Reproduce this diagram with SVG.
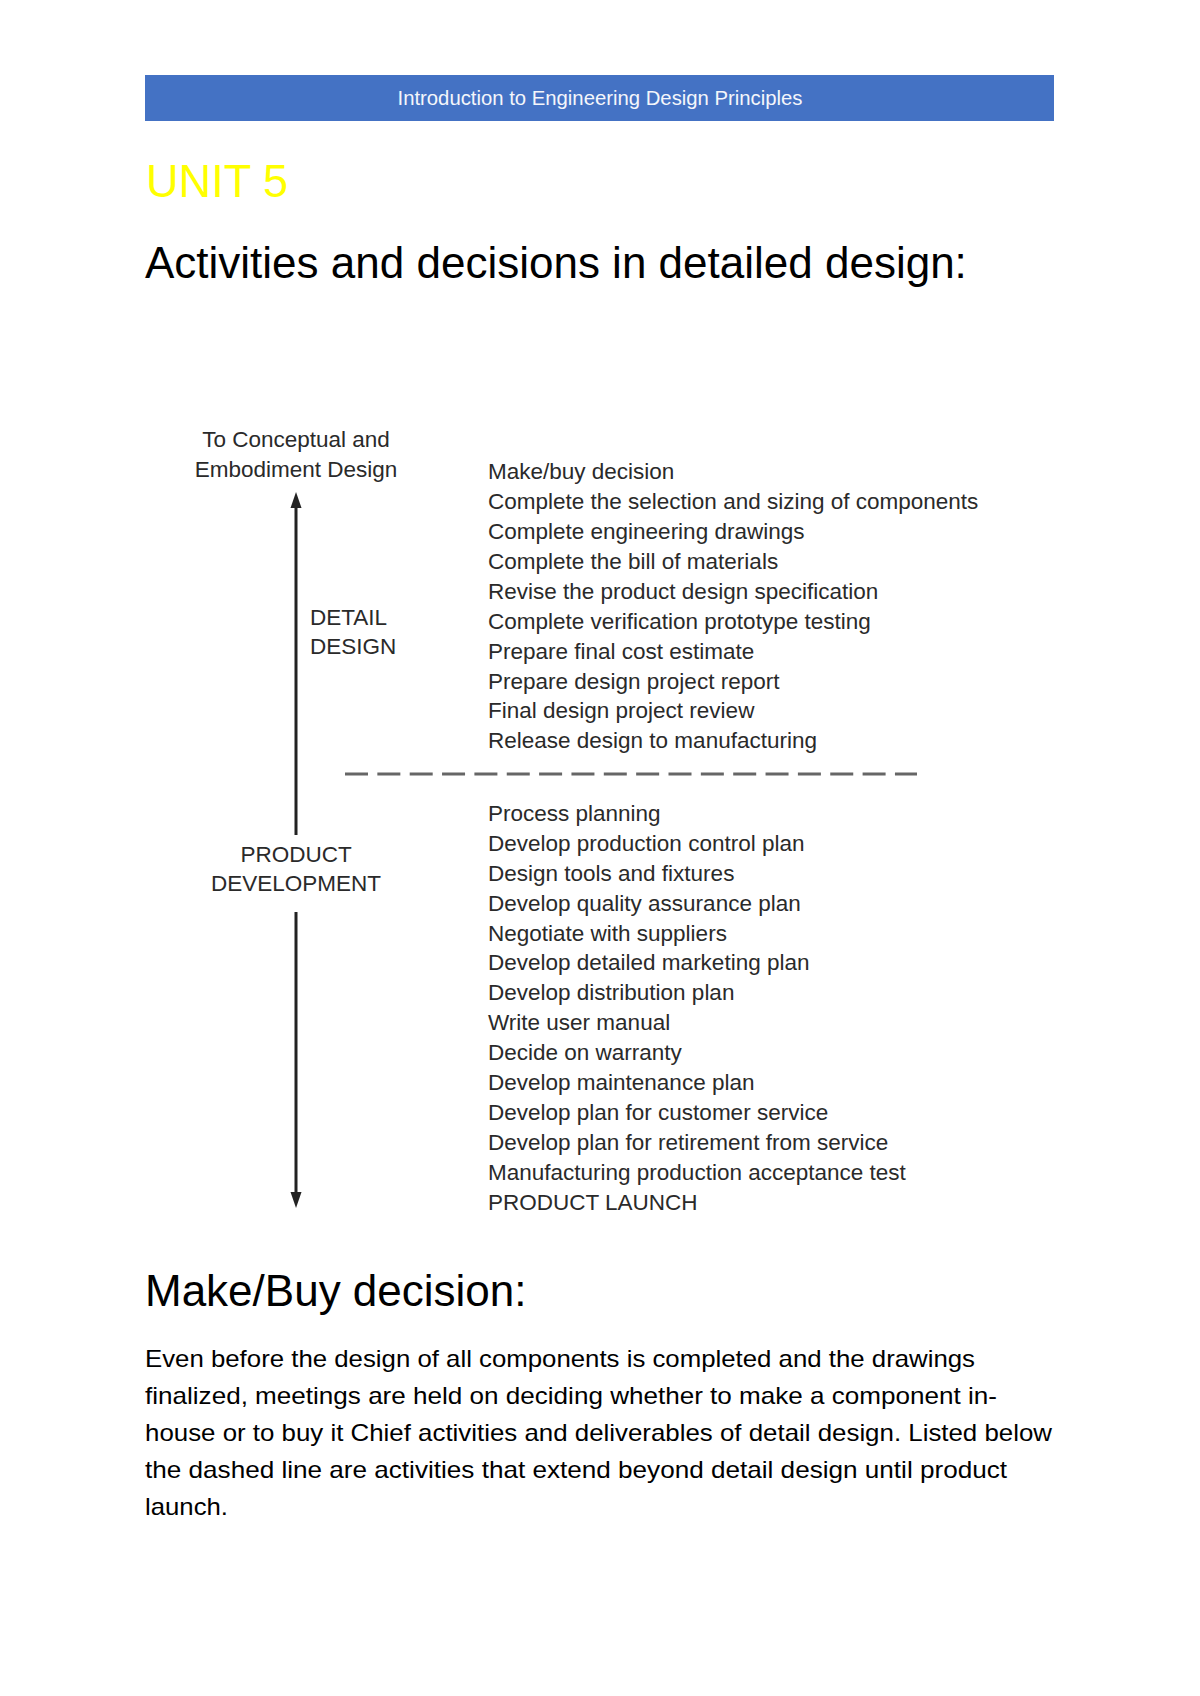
<svg xmlns="http://www.w3.org/2000/svg" width="1200" height="1696" viewBox="0 0 1200 1696">
<style>
.hdr{font-family:"Liberation Sans",Arial,sans-serif;font-size:20px;fill:#f4f6fb}
.unit{font-family:"Liberation Sans",Arial,sans-serif;font-size:46px;fill:#ffff00}
.h1{font-family:"Liberation Sans",Arial,sans-serif;font-size:44px;fill:#000}
.body{font-family:"Liberation Sans",Arial,sans-serif;font-size:24px;fill:#000}
.dg{font-family:"Liberation Sans",Arial,sans-serif;font-size:22.5px;fill:#2a2a2a}
.ctr{text-anchor:middle}
.axis{stroke:#222;stroke-width:3;fill:none}
.dash{stroke:#666;stroke-width:3;stroke-dasharray:23 9.35;fill:none}
.head{fill:#222}
</style>
<rect width="1200" height="1696" fill="#fff"/>
<g id="header">
<rect x="145" y="75" width="909" height="46" fill="#4472c4"/>
<text class="hdr ctr" x="600" y="105" textLength="405" lengthAdjust="spacingAndGlyphs">Introduction to Engineering Design Principles</text>
</g>
<g id="unit-title">
<text class="unit" x="146" y="197" textLength="142" lengthAdjust="spacingAndGlyphs">UNIT 5</text>
</g>
<g id="heading-activities">
<text class="h1" x="145" y="278">Activities and decisions in detailed design:</text>
</g>
<g id="connectors">
<line class="axis" x1="296" y1="504" x2="296" y2="835"/>
<polygon class="head" points="296,492 290.5,508 301.5,508"/>
<line class="axis" x1="296" y1="912" x2="296" y2="1196"/>
<polygon class="head" points="296,1208 290.5,1192 301.5,1192"/>
<line class="dash" x1="345" y1="774" x2="917" y2="774"/>
</g>
<g id="node-conceptual">
<text class="dg ctr" x="296" y="447">To Conceptual and</text>
<text class="dg ctr" x="296" y="477">Embodiment Design</text>
</g>
<g id="node-detail-design">
<text class="dg" x="310" y="625">DETAIL</text>
<text class="dg" x="310" y="654">DESIGN</text>
</g>
<g id="node-product-development">
<text class="dg ctr" x="296" y="862">PRODUCT</text>
<text class="dg ctr" x="296" y="891">DEVELOPMENT</text>
</g>
<g id="node-detail-activities">
<text class="dg" x="488" y="479">Make/buy decision</text>
<text class="dg" x="488" y="509">Complete the selection and sizing of components</text>
<text class="dg" x="488" y="539">Complete engineering drawings</text>
<text class="dg" x="488" y="569">Complete the bill of materials</text>
<text class="dg" x="488" y="599">Revise the product design specification</text>
<text class="dg" x="488" y="629">Complete verification prototype testing</text>
<text class="dg" x="488" y="659">Prepare final cost estimate</text>
<text class="dg" x="488" y="689">Prepare design project report</text>
<text class="dg" x="488" y="718">Final design project review</text>
<text class="dg" x="488" y="748">Release design to manufacturing</text>
</g>
<g id="node-development-activities">
<text class="dg" x="488" y="821">Process planning</text>
<text class="dg" x="488" y="851">Develop production control plan</text>
<text class="dg" x="488" y="881">Design tools and fixtures</text>
<text class="dg" x="488" y="911">Develop quality assurance plan</text>
<text class="dg" x="488" y="941">Negotiate with suppliers</text>
<text class="dg" x="488" y="970">Develop detailed marketing plan</text>
<text class="dg" x="488" y="1000">Develop distribution plan</text>
<text class="dg" x="488" y="1030">Write user manual</text>
<text class="dg" x="488" y="1060">Decide on warranty</text>
<text class="dg" x="488" y="1090">Develop maintenance plan</text>
<text class="dg" x="488" y="1120">Develop plan for customer service</text>
<text class="dg" x="488" y="1150">Develop plan for retirement from service</text>
<text class="dg" x="488" y="1180">Manufacturing production acceptance test</text>
<text class="dg" x="488" y="1210">PRODUCT LAUNCH</text>
</g>
<g id="heading-makebuy">
<text class="h1" x="145" y="1306">Make/Buy decision:</text>
</g>
<g id="body-text">
<text class="body" x="145" y="1367" textLength="830" lengthAdjust="spacingAndGlyphs">Even before the design of all components is completed and the drawings</text>
<text class="body" x="145" y="1404" textLength="852" lengthAdjust="spacingAndGlyphs">finalized, meetings are held on deciding whether to make a component in-</text>
<text class="body" x="145" y="1441" textLength="907" lengthAdjust="spacingAndGlyphs">house or to buy it Chief activities and deliverables of detail design. Listed below</text>
<text class="body" x="145" y="1478" textLength="862" lengthAdjust="spacingAndGlyphs">the dashed line are activities that extend beyond detail design until product</text>
<text class="body" x="145" y="1515" textLength="83" lengthAdjust="spacingAndGlyphs">launch.</text>
</g>
</svg>
